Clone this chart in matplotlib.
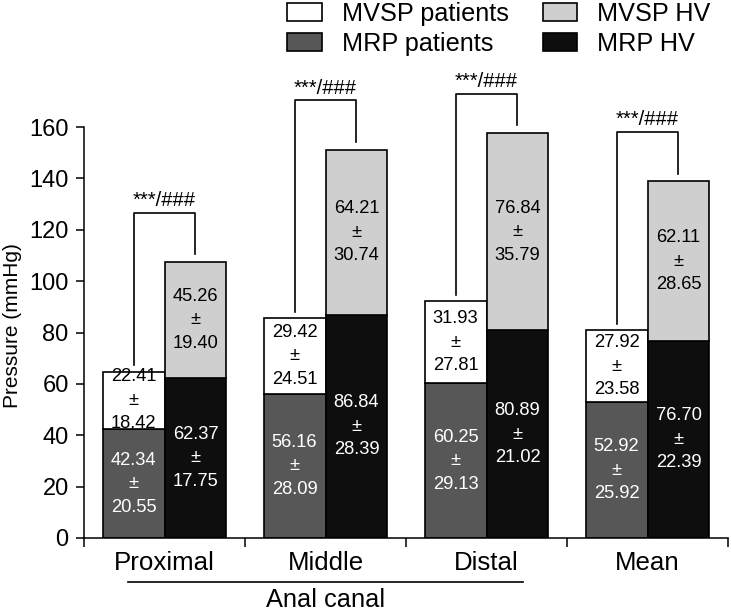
import matplotlib
matplotlib.use('Agg')
import matplotlib.pyplot as plt
import matplotlib.transforms as mtransforms
import numpy as np

plt.rcParams['font.family'] = ['Liberation Sans', 'DejaVu Sans']

# Data
groups = ['Proximal', 'Middle', 'Distal', 'Mean']
mrp_pat = [42.34, 56.16, 60.25, 52.92]
mrp_pat_sd = [20.55, 28.09, 29.13, 25.92]
mvsp_pat = [22.41, 29.42, 31.93, 27.92]
mvsp_pat_sd = [18.42, 24.51, 27.81, 23.58]
mrp_hv = [62.37, 86.84, 80.89, 76.70]
mrp_hv_sd = [17.75, 28.39, 21.02, 22.39]
mvsp_hv = [45.26, 64.21, 76.84, 62.11]
mvsp_hv_sd = [19.40, 30.74, 35.79, 28.65]
bracket_top = [126.5, 170.4, 172.8, 158.0]
sig_label = '***/###'

fig = plt.figure(figsize=(7.31, 6.12), dpi=100)
ax = fig.add_axes([84/731, 1 - 538/612, 644/731, 411/612])

x = np.arange(len(groups))
w = 0.385
xp = x - w/2
xh = x + w/2
kw = dict(width=w, edgecolor='black', linewidth=1.2)

b1 = ax.bar(xp, mrp_pat, color='#575757', label='MRP patients', **kw)
b2 = ax.bar(xp, mvsp_pat, bottom=mrp_pat, color='white', label='MVSP patients', **kw)
b3 = ax.bar(xh, mrp_hv, color='#0e0e0e', label='MRP HV', **kw)
b4 = ax.bar(xh, mvsp_hv, bottom=mrp_hv, color='#cfcfcf', label='MVSP HV', **kw)

pat_top = np.array(mrp_pat) + np.array(mvsp_pat)
hv_top = np.array(mrp_hv) + np.array(mvsp_hv)

# value labels in each segment
for i in range(len(groups)):
    segs = [
        (xp[i], 0, mrp_pat[i], mrp_pat_sd[i], 'white'),
        (xp[i], mrp_pat[i], mvsp_pat[i], mvsp_pat_sd[i], 'black'),
        (xh[i], 0, mrp_hv[i], mrp_hv_sd[i], 'white'),
        (xh[i], mrp_hv[i], mvsp_hv[i], mvsp_hv_sd[i], 'black'),
    ]
    for xc, b, m, s, c in segs:
        ax.text(xc, b + m/2, f'{m:.2f}\n±\n{s:.2f}', ha='center', va='center',
                color=c, fontsize=13.2, linespacing=1.5)

    # significance bracket
    yt = bracket_top[i]
    ax.plot([xp[i], xp[i], xh[i], xh[i]],
            [pat_top[i] + 2.5, yt, yt, hv_top[i] + 3],
            color='black', lw=1.2, clip_on=False)
    ax.annotate(sig_label, (x[i], yt), xytext=(0, 2), textcoords='offset points',
                ha='center', va='bottom', fontsize=14.5, annotation_clip=False)

ax.set_xlim(-0.5, 3.5)
ax.set_ylim(0, 160)
ax.set_yticks(np.arange(0, 161, 20))
ax.set_yticklabels([str(v) for v in range(0, 161, 20)],
                   family=['Liberation Sans Narrow', 'Liberation Sans'], fontsize=17)
ax.set_xticks([-0.5, 0.5, 1.5, 2.5, 3.5])
ax.set_xticklabels([])
ax.set_xticks(x, minor=True)
ax.set_xticklabels(groups, minor=True, fontsize=18.6)
ax.tick_params(axis='x', which='major', direction='out', length=6.5, width=1.1)
ax.tick_params(axis='x', which='minor', length=0, pad=9)
ax.tick_params(axis='y', direction='out', length=6, width=1.1, pad=5)
for side in ['top', 'right']:
    ax.spines[side].set_visible(False)
for side in ['left', 'bottom']:
    ax.spines[side].set_linewidth(1.1)
ax.set_ylabel('Pressure (mmHg)', fontsize=15)
ax.yaxis.set_label_coords(-0.097, 0.516)

# Anal canal underline
trans = mtransforms.blended_transform_factory(ax.transData, ax.transAxes)
ax.plot([-0.227, 2.227], [-0.107, -0.107], color='black', lw=1.2,
        transform=trans, clip_on=False)
ax.text(1.0, (538 - 607) / 411, 'Anal canal', transform=trans, ha='center',
        va='baseline', fontsize=18.3)

fig.legend(handles=[b2, b1, b4, b3], ncol=2, loc='upper left',
           bbox_to_anchor=(287/731, 1 - 2/612), frameon=False, fontsize=18.2,
           handlelength=1.38, handleheight=0.71, handletextpad=0.79,
           columnspacing=1.34, labelspacing=0.24, borderpad=0, borderaxespad=0)

fig.savefig('out.png', dpi=100)
